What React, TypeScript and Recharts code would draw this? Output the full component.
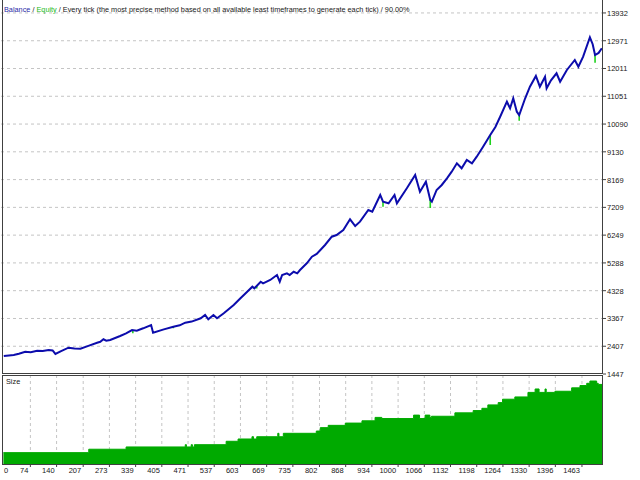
import React from "react";
import {
  LineChart,
  Line,
  AreaChart,
  Area,
  XAxis,
  YAxis,
  CartesianGrid,
} from "recharts";

// ---- data ----
// balance curve: [trade number, balance]
const balancePoints: [number, number][] = [
  [7, 2069], [20, 2090], [32, 2104], [45, 2150], [61, 2218], [75, 2200], [91, 2253], [105, 2240],
  [120, 2277], [130, 2260], [137, 2139], [150, 2230], [170, 2356], [185, 2330], [200, 2322],
  [220, 2420], [242, 2529], [250, 2560], [258, 2647], [265, 2600], [275, 2623], [300, 2760],
  [315, 2850], [330, 2968], [342, 2944], [358, 3027], [378, 3141], [383, 2875], [410, 2990],
  [434, 3083], [450, 3130], [464, 3221], [480, 3260], [503, 3373], [514, 3487], [522, 3339],
  [535, 3487], [544, 3373], [561, 3546], [586, 3833], [603, 4065], [620, 4293], [633, 4466],
  [638, 4410], [654, 4639], [660, 4583], [678, 4698], [695, 4870], [702, 4639], [708, 4870],
  [720, 4929], [727, 4870], [737, 4984], [746, 4929], [753, 5043], [770, 5275], [783, 5503],
  [795, 5597], [816, 5908], [833, 6195], [845, 6254], [862, 6427], [879, 6797], [892, 6565],
  [904, 6714], [925, 7118], [935, 7059], [955, 7637], [962, 7405], [976, 7350], [991, 7637],
  [997, 7350], [1022, 7868], [1043, 8328], [1055, 7751], [1070, 8097], [1081, 7464],
  [1085, 7405], [1097, 7810], [1110, 7983], [1123, 8214], [1135, 8443], [1148, 8733],
  [1160, 8560], [1173, 8847], [1186, 8733], [1198, 8961], [1214, 9307], [1232, 9712],
  [1245, 9990], [1257, 10344], [1274, 10863], [1282, 10635], [1290, 10981], [1299, 10517],
  [1305, 10403], [1320, 10981], [1332, 11382], [1347, 11752], [1357, 11382], [1370, 11728],
  [1374, 11326], [1385, 11600], [1399, 11845], [1408, 11555], [1425, 11959], [1445, 12305],
  [1454, 12073], [1466, 12419], [1483, 13090], [1490, 12850], [1496, 12478], [1505, 12550],
  [1513, 12710],
];
// equity drawdowns below balance: [trade, balance level, lowest equity]
const equityDips: [number, number, number][] = [
  [332, 2950, 2855], [434, 3083, 3027], [644, 4500, 4400], [962, 7405, 7232],
  [1081, 7464, 7187], [1232, 9712, 9366], [1305, 10403, 10206], [1496, 12478, 12211],
];
// lot size steps: [first trade of the step, lots]
const sizeSteps: [number, number][] = [
  [6, 0.1], [221, 0.13], [315, 0.15], [464, 0.17], [467, 0.15], [479, 0.17], [482, 0.15],
  [487, 0.17], [567, 0.2], [597, 0.22], [632, 0.24], [636, 0.22], [644, 0.24], [697, 0.27],
  [700, 0.24], [711, 0.27], [794, 0.29], [804, 0.32], [824, 0.34], [867, 0.36], [909, 0.38],
  [942, 0.41], [959, 0.4], [1039, 0.43], [1054, 0.4], [1068, 0.43], [1080, 0.41], [1084, 0.42],
  [1143, 0.45], [1189, 0.47], [1211, 0.49], [1226, 0.52], [1252, 0.54], [1263, 0.57],
  [1294, 0.59], [1327, 0.63], [1345, 0.66], [1355, 0.63], [1370, 0.66], [1373, 0.63],
  [1395, 0.64], [1437, 0.67], [1458, 0.69], [1475, 0.71], [1483, 0.73], [1500, 0.71],
  [1504, 0.7], [1516, 0.7],
];

const xTicks = [
  0, 74, 140, 207, 273, 339, 405, 471, 537, 603, 669, 735, 802, 868, 934, 1000, 1066, 1132,
  1198, 1264, 1330, 1396, 1463,
];
const yTicks = [
  1447, 2407, 3367, 4328, 5288, 6249, 7209, 8169, 9130, 10090, 11051, 12011, 12971, 13932,
];

const balanceData = balancePoints.map(([t, v]) => ({ t, v }));
const equityDipData = equityDips.flatMap(([t, top, low]) => [
  { t, v: top },
  { t, v: low },
  { t: t + 0.01, v: null },
]);
const sizeData = sizeSteps.map(([t, lot]) => ({ t, lot }));

const FONT = "'Liberation Sans', Arial, sans-serif";
const BORDER = "#404040";
const GRID = "#c4c4c4";
const BLUE = "#0c0cac";
const GREEN_LINE = "#1ed21e";
const GREEN_FILL = "#00aa00";

const YTick = (props: any) => {
  const { x, y, payload } = props;
  return (
    <g>
      <line x1={x} x2={x + 3} y1={y} y2={y} stroke={BORDER} strokeWidth={1} />
      <text x={x + 4} y={y + 3} fontSize={7.5} fontFamily={FONT} fill="#202020" textAnchor="start">
        {payload.value}
      </text>
    </g>
  );
};

const XTick = (props: any) => {
  const { x, payload } = props;
  const isZero = payload.value === 0;
  return (
    <g>
      {!isZero && <line x1={x} x2={x} y1={89} y2={92} stroke={BORDER} strokeWidth={1} />}
      <text
        x={isZero ? x + 3 : x - 2}
        y={98}
        fontSize={7.5}
        fontFamily={FONT}
        fill="#202020"
        textAnchor={isZero ? "start" : "end"}
      >
        {payload.value}
      </text>
    </g>
  );
};

export default function App() {
  return (
    <div style={{ position: "absolute", left: 0, top: 0, width: 640, height: 480, background: "#fff", overflow: "hidden" }}>
      <div style={{ position: "absolute", left: 0, top: 0 }}>
        <LineChart width={640} height={380} margin={{ top: 1, right: 0, bottom: 6, left: 1 }}>
          <CartesianGrid
            stroke={GRID}
            strokeDasharray="3 3"
            horizontalValues={yTicks.slice(1)}
            verticalValues={xTicks.slice(1)}
          />
          <XAxis
            type="number"
            dataKey="t"
            domain={[0, 1516]}
            ticks={xTicks}
            height={0}
            tick={false}
            axisLine={false}
            tickLine={false}
          />
          <YAxis
            orientation="right"
            type="number"
            domain={[1447, 14345]}
            ticks={yTicks}
            width={37}
            axisLine={false}
            tickLine={false}
            tickSize={0}
            tickMargin={0}
            tick={<YTick />}
            interval={0}
          />
          <Line data={equityDipData} dataKey="v" type="linear" stroke={GREEN_LINE} strokeWidth={1.6} dot={false} connectNulls={false} isAnimationActive={false} />
          <Line data={balanceData} dataKey="v" type="linear" stroke={BLUE} strokeWidth={2} dot={false} isAnimationActive={false} />
        </LineChart>
      </div>
      <div style={{ position: "absolute", left: 0, top: 375 }}>
        <AreaChart width={640} height={105} data={sizeData} margin={{ top: 0, right: 37, bottom: 0, left: 1 }}>
          <CartesianGrid stroke={GRID} strokeDasharray="3 3" horizontal={false} verticalValues={xTicks.slice(1)} />
          <XAxis
            type="number"
            dataKey="t"
            domain={[0, 1516]}
            ticks={xTicks}
            height={16}
            axisLine={false}
            tickLine={false}
            tickSize={0}
            tickMargin={0}
            tick={<XTick />}
            interval={0}
          />
          <YAxis hide type="number" domain={[0, 0.783]} />
          <Area
            dataKey="lot"
            type="stepAfter"
            stroke={GREEN_FILL}
            strokeWidth={1}
            fill={GREEN_FILL}
            fillOpacity={1}
            baseValue={0}
            dot={false}
            isAnimationActive={false}
          />
        </AreaChart>
      </div>
      {/* panel borders */}
      <div style={{ position: "absolute", left: 2, top: 0, width: 601, height: 374, border: `1px solid ${BORDER}`, boxSizing: "border-box", borderTop: "none", pointerEvents: "none" }} />
      <div style={{ position: "absolute", left: 2, top: 375, width: 601, height: 90, border: `1px solid ${BORDER}`, boxSizing: "border-box", pointerEvents: "none" }} />
      {/* titles */}
      <div style={{ position: "absolute", left: 4, top: 5, fontFamily: FONT, fontSize: 7.3, color: "#202020", whiteSpace: "nowrap", lineHeight: "10px" }}>
        <span style={{ color: "#2a2aa8" }}>Balance</span> / <span style={{ color: "#22bb22" }}>Equity</span> / Every tick (the most precise method based on all available least timeframes to generate each tick) / 90.00%
      </div>
      <div style={{ position: "absolute", left: 6, top: 377, fontFamily: FONT, fontSize: 7.3, color: "#202020", lineHeight: "10px" }}>Size</div>
    </div>
  );
}
